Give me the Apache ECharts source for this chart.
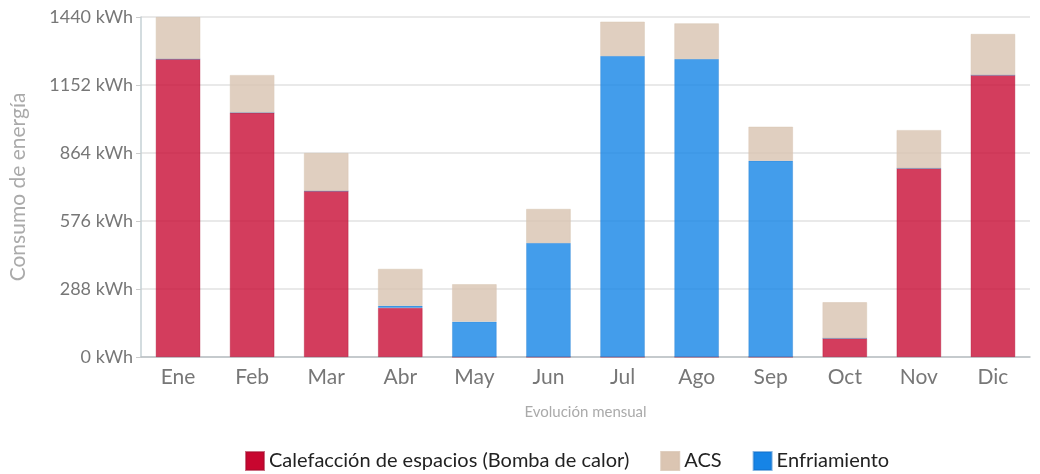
<!DOCTYPE html>
<html>
<head>
<meta charset="utf-8">
<script src="https://cdn.jsdelivr.net/npm/echarts@6/dist/echarts.min.js"></script>
<style>
  html, body { margin: 0; padding: 0; background: #fff; }
  #chart { width: 1040px; height: 474px; }
</style>
</head>
<body>
<div id="chart"></div>
<script>
// Monthly energy consumption (kWh)
const months = ['Ene', 'Feb', 'Mar', 'Abr', 'May', 'Jun', 'Jul', 'Ago', 'Sep', 'Oct', 'Nov', 'Dic'];
const heating = [1262, 1035, 703, 208, 0, 0, 0, 0, 0, 79, 799, 1194];
const cooling = [0, 0, 0, 9, 150, 483, 1275, 1262, 831, 0, 0, 0];
const acs = [178, 159, 161, 156, 158, 144, 145, 151, 144, 153, 162, 174];
const yTicks = [0, 288, 576, 864, 1152, 1440];

const FONT = 'Lato, "Noto Sans", sans-serif';
const chart = echarts.init(document.getElementById('chart'), null, { renderer: 'canvas' });

function barSeries(name, data, color, edgeColor) {
  return {
    name: name,
    type: 'bar',
    stack: 'total',
    data: data,
    barWidth: '60%',
    itemStyle: { color: color, borderColor: edgeColor, borderWidth: 0.6 },
    emphasis: { disabled: true }
  };
}

chart.setOption({
  animation: false,
  textStyle: { fontFamily: FONT },
  grid: { left: 140, right: 10, top: 17, bottom: 117, containLabel: false },
  legend: {
    top: 451,
    left: 245,
    padding: 0,
    itemWidth: 18,
    itemHeight: 18,
    itemGap: 31,
    icon: 'rect',
    textStyle: { fontSize: 20, color: '#222', fontFamily: FONT },
    data: [
      { name: 'Calefacción de espacios (Bomba de calor)', itemStyle: { color: '#c8062f' } },
      { name: 'ACS', itemStyle: { color: '#dbc5b2' } },
      { name: 'Enfriamiento', itemStyle: { color: '#1684e6' } }
    ]
  },
  xAxis: {
    type: 'category',
    data: months,
    name: 'Evolución mensual',
    nameLocation: 'middle',
    nameGap: 48,
    nameTextStyle: { fontSize: 15, color: '#aaa' },
    axisLine: { lineStyle: { color: '#b9c0c4', width: 1.5 } },
    axisTick: { show: false },
    axisLabel: { fontSize: 21, color: '#777', margin: 10 }
  },
  yAxis: {
    type: 'value',
    min: yTicks[0],
    max: yTicks[yTicks.length - 1],
    interval: yTicks[1] - yTicks[0],
    name: 'Consumo de energía',
    nameLocation: 'middle',
    nameGap: 112,
    nameTextStyle: { fontSize: 21, color: '#aaa' },
    axisLine: { show: true, lineStyle: { color: '#c5d0d4', width: 1.5 } },
    axisTick: { show: true, length: 5, lineStyle: { color: '#ccc' } },
    axisLabel: { fontSize: 18, color: '#777', margin: 8, formatter: v => v + ' kWh' },
    splitLine: { lineStyle: { color: '#e2e2e2', width: 1.5 } }
  },
  series: [
    barSeries('Calefacción de espacios (Bomba de calor)', heating, 'rgba(200,12,52,0.8)', 'rgba(170,10,45,0.6)'),
    barSeries('Enfriamiento', cooling, 'rgba(20,132,230,0.8)', 'rgba(15,110,200,0.5)'),
    barSeries('ACS', acs, 'rgba(216,195,176,0.8)', 'rgba(216,195,176,0.8)')
  ]
});
</script>
</body>
</html>
